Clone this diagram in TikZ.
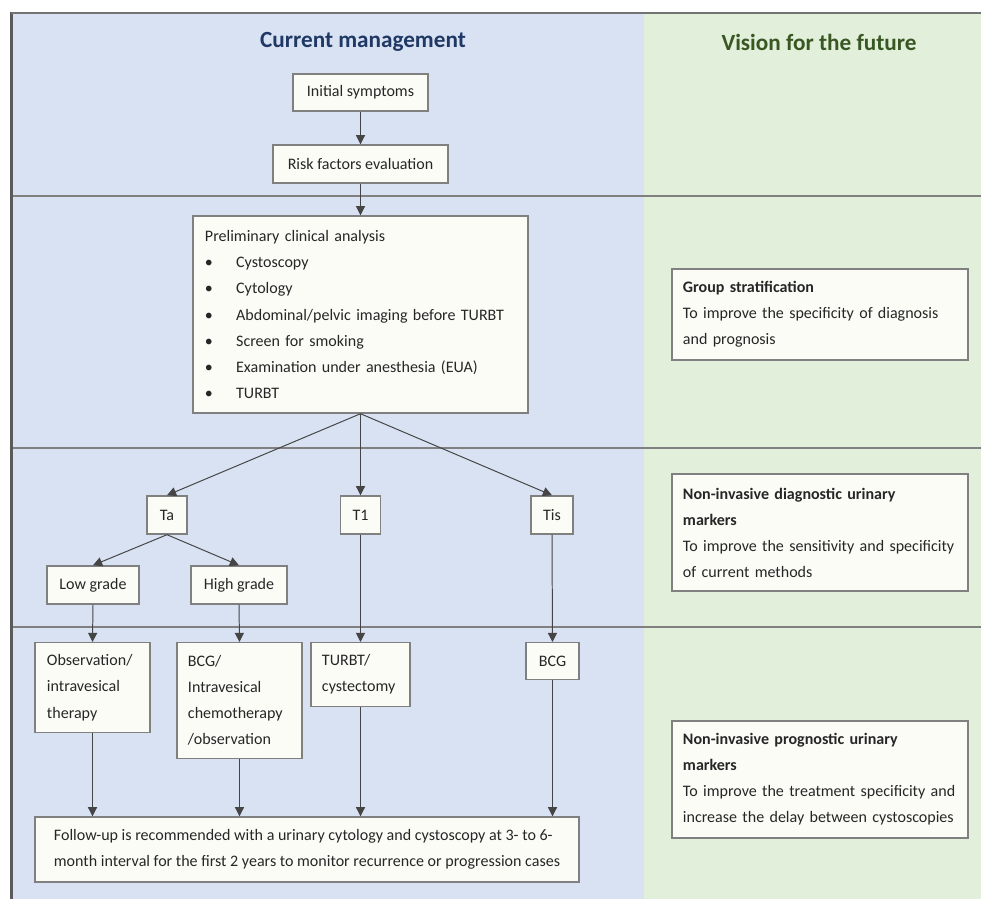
\documentclass[tikz,border=0pt]{standalone}
\usepackage{fontspec}
\setmainfont{Carlito}
\usepackage{xcolor}
\usetikzlibrary{arrows.meta}

\definecolor{bluebg}{HTML}{D9E2F3}
\definecolor{greenbg}{HTML}{E2EFDA}
\definecolor{boxfill}{HTML}{FCFCF7}
\definecolor{boxline}{HTML}{808080}
\definecolor{arrowcol}{HTML}{454545}
\definecolor{framecol}{HTML}{5A5A5A}
\definecolor{titleblue}{HTML}{1F3864}
\definecolor{titlegreen}{HTML}{385723}
\definecolor{textcol}{HTML}{262626}

\newcommand{\boxfont}{\fontsize{11.4}{18.5}\selectfont}
\newcommand{\bitem}{\makebox[0.78cm][l]{\textbullet}}

\tikzset{
	box/.style={draw=boxline, fill=boxfill, line width=1pt, inner sep=0pt, text=textcol, font=\boxfont},
	listbox/.style={box, align=left, inner xsep=0.3cm},
	arr/.style={draw=arrowcol, line width=0.7pt, -{Triangle[length=6.5pt,width=6.5pt]}},
	sepline/.style={draw=boxline, line width=0.8pt},
	coltitle/.style={font=\fontsize{16.5}{19}\selectfont\bfseries},
}

\begin{document}
\begin{tikzpicture}[x=0.025cm, y=-0.025cm]
					\useasboundingbox (0,0) rectangle (981,899);
					\fill[white] (0,0) rectangle (981,899);
					
					% Columns
					\fill[bluebg] (13,13) rectangle (644,899);
					\fill[greenbg] (644,13) rectangle (981,899);
					\draw[framecol, line width=2.1pt] (11.5,899) -- (11.5,12);
					\draw[boxline!90!black, line width=1.4pt] (10.5,13) -- (981,13);
					\foreach \yy in {196,448,627}
						\draw[sepline] (13,\yy) -- (981,\yy);
					
					% Titles
					\node[coltitle, text=titleblue] (curtitle) at (363,42) {Current management};
					\node[coltitle, text=titlegreen] (futtitle) at (819,42) {Vision for the future};
					
					% Current management
					\node[box, minimum width=3.375cm, minimum height=0.925cm] (init) at (360.5,92.5) {Initial symptoms};
					\node[box, minimum width=4.375cm, minimum height=0.95cm] (risk) at (360.5,164) {Risk factors evaluation};
					\node[listbox, text width=7.775cm, minimum height=4.925cm] (prelim) at (360.5,314.5) {Preliminary clinical analysis\\
						\bitem Cystoscopy\\
						\bitem Cytology\\
						\bitem Abdominal/pelvic imaging before TURBT\\
						\bitem Screen for smoking\\
						\bitem Examination under anesthesia (EUA)\\
						\bitem TURBT};
					
					\node[box, minimum width=1cm, minimum height=0.95cm] (ta) at (167,515) {Ta};
					\node[box, minimum width=1cm, minimum height=0.95cm] (t1) at (360.5,515) {T1};
					\node[box, minimum width=1.05cm, minimum height=0.95cm] (tis) at (552,515) {Tis};
					\node[box, minimum width=2.3cm, minimum height=0.95cm] (low) at (93,585) {Low grade};
					\node[box, minimum width=2.4cm, minimum height=0.95cm] (high) at (239,585) {High grade};
					
					\node[listbox, anchor=north, text width=2.275cm, minimum height=2.25cm] (obs) at (92.5,642) {Observation/\\intravesical\\therapy};
					\node[listbox, anchor=north, inner xsep=0.275cm, text width=2.575cm, minimum height=2.9cm] (bcgi) at (239.5,642) {BCG/\\Intravesical\\chemotherapy\\/observation};
					\node[listbox, anchor=north, inner xsep=0.275cm, text width=1.925cm, minimum height=1.6cm] (turbt) at (360.5,642) {TURBT/\\cystectomy};
					\node[box, anchor=north, minimum width=1.325cm, minimum height=0.925cm] (bcg) at (552.5,642) {BCG};
					\node[box, align=left, minimum width=13.6cm, minimum height=1.625cm] (follow) at (307,849.5) {Follow-up is recommended with a urinary cytology and cystoscopy at 3- to 6-\\month interval for the first 2 years to monitor recurrence or progression cases};
					
					% Vision for the future
					\node[listbox, inner xsep=0.275cm, text width=6.85cm, minimum height=2.275cm] (group) at (820,314.5) {\textbf{Group stratification}\\To improve the specificity of diagnosis\\and prognosis};
					\node[listbox, inner xsep=0.275cm, text width=6.85cm, minimum height=2.925cm] (diag) at (820,532.5) {\textbf{Non-invasive diagnostic urinary}\\\textbf{markers}\\To improve the sensitivity and specificity\\of current methods};
					\node[listbox, inner xsep=0.275cm, text width=6.85cm, minimum height=2.925cm] (prog) at (820,779.5) {\textbf{Non-invasive prognostic urinary}\\\textbf{markers}\\To improve the treatment specificity and\\increase the delay between cystoscopies};
					
					% Arrows
					\draw[arr] (init.south) -- (risk.north);
					\draw[arr] (risk.south) -- (prelim.north);
					\draw[arr] (prelim.south) -- (ta.north);
					\draw[arr] (prelim.south) -- (t1.north);
					\draw[arr] (prelim.south) -- (tis.north);
					\draw[arr] (ta.south) -- (low.north);
					\draw[arr] (ta.south) -- (high.north);
					\draw[arr] (low.south) -- (obs.north);
					\draw[arr] (high.south) -- (bcgi.north);
					\draw[arr] (t1.south) -- (turbt.north);
					\draw[arr] (tis.south) -- (bcg.north);
					\foreach \src in {obs,bcgi,turbt,bcg}
						\draw[arr] (\src.south) -- (\src.south |- follow.north);
				\end{tikzpicture}
\end{document}
